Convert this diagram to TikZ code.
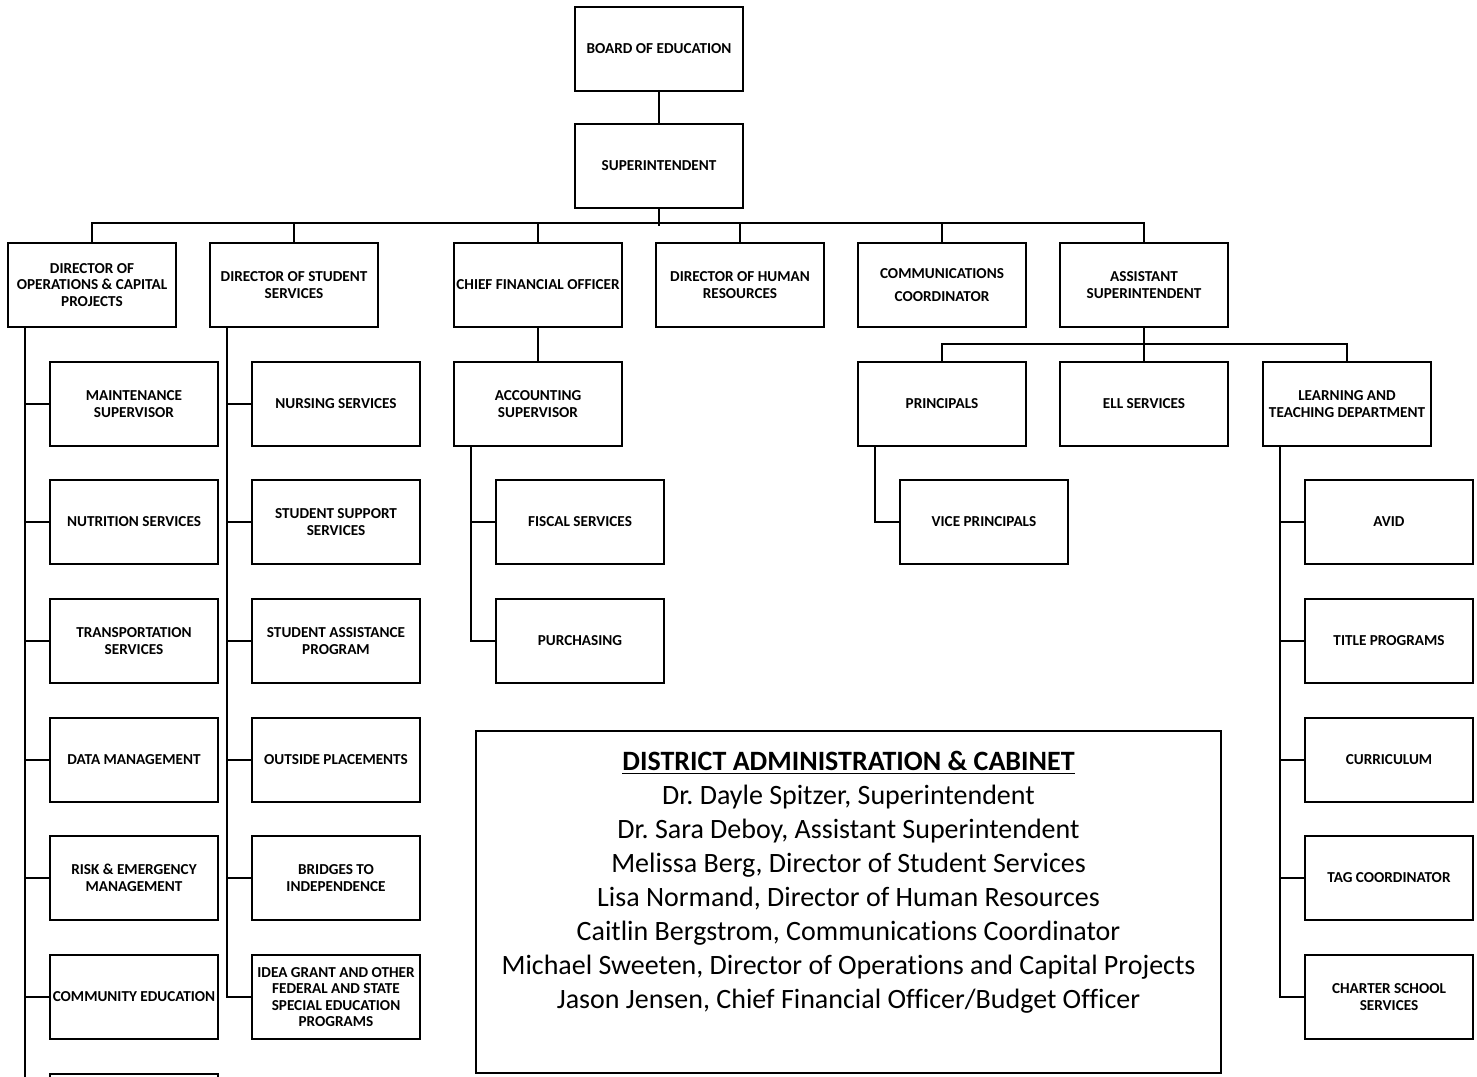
\documentclass[tikz,border=0pt]{standalone}
\usepackage{fontspec}
\setmainfont{Carlito}[Ligatures=NoCommon]
\usetikzlibrary{calc}
\frenchspacing
\begin{document}
\begin{tikzpicture}[x=0.5pt,y=-0.5pt,
  box/.style={draw,line width=1.3pt,minimum width=84pt,minimum height=42pt,inner sep=1pt,align=center,
    font=\bfseries\fontsize{7.6}{8.3}\selectfont},
  conn/.style={line width=1.2pt}]
\path[use as bounding box,clip] (0,0) rectangle (1477,1076);
% top
\node[box] (board) at (659,49) {BOARD OF EDUCATION};
\node[box] (supt) at (659,166) {SUPERINTENDENT};
% level 1
\node[box] (ops) at (92,285) {DIRECTOR OF\\OPERATIONS \& CAPITAL\\PROJECTS};
\node[box] (sss) at (294,285) {DIRECTOR OF STUDENT\\SERVICES};
\node[box] (cfo) at (538,285) {CHIEF FINANCIAL OFFICER};
\node[box] (hr) at (740,285) {DIRECTOR OF HUMAN\\RESOURCES};
\node[box] (comm) at (942,285) {COMMUNICATIONS\\[3pt]COORDINATOR};
\node[box] (asst) at (1144,285) {ASSISTANT\\SUPERINTENDENT};
% ops children
\node[box] (ops1) at (134,404) {MAINTENANCE\\SUPERVISOR};
\node[box] (ops2) at (134,522) {NUTRITION SERVICES};
\node[box] (ops3) at (134,641) {TRANSPORTATION\\SERVICES};
\node[box] (ops4) at (134,760) {DATA MANAGEMENT};
\node[box] (ops5) at (134,878) {RISK \& EMERGENCY\\MANAGEMENT};
\node[box] (ops6) at (134,997) {COMMUNITY EDUCATION};
\node[box] (ops7) at (134,1116) {};
% student services children
\node[box] (sss1) at (336,404) {NURSING SERVICES};
\node[box] (sss2) at (336,522) {STUDENT SUPPORT\\SERVICES};
\node[box] (sss3) at (336,641) {STUDENT ASSISTANCE\\PROGRAM};
\node[box] (sss4) at (336,760) {OUTSIDE PLACEMENTS};
\node[box] (sss5) at (336,878) {BRIDGES TO\\INDEPENDENCE};
\node[box] (sss6) at (336,997) {IDEA GRANT AND OTHER\\FEDERAL AND STATE\\SPECIAL EDUCATION\\PROGRAMS};
% CFO
\node[box] (acct) at (538,404) {ACCOUNTING\\SUPERVISOR};
\node[box] (fisc) at (580,522) {FISCAL SERVICES};
\node[box] (purch) at (580,641) {PURCHASING};
% assistant superintendent
\node[box] (prin) at (942,404) {PRINCIPALS};
\node[box] (ell) at (1144,404) {ELL SERVICES};
\node[box] (lt) at (1347,404) {LEARNING AND\\TEACHING DEPARTMENT};
\node[box] (vp) at (984,522) {VICE PRINCIPALS};
\node[box] (lt1) at (1389,522) {AVID};
\node[box] (lt2) at (1389,641) {TITLE PROGRAMS};
\node[box] (lt3) at (1389,760) {CURRICULUM};
\node[box] (lt4) at (1389,878) {TAG COORDINATOR};
\node[box] (lt5) at (1389,997) {CHARTER SCHOOL\\SERVICES};
% cabinet
\node[draw,line width=1.3pt,minimum width=372.5pt,minimum height=171pt,inner sep=0pt] (cab) at (848.5,902) {};
\node[anchor=north,align=center,inner sep=0pt,font=\fontsize{14}{17}\selectfont] (cabtext) at ($(cab.north)+(0,21)$)
 {\textbf{\underline{DISTRICT ADMINISTRATION \& CABINET}}\\
  Dr. Dayle Spitzer, Superintendent\\
  Dr. Sara Deboy, Assistant Superintendent\\
  Melissa Berg, Director of Student Services\\
  Lisa Normand, Director of Human Resources\\
  Caitlin Bergstrom, Communications Coordinator\\
  Michael Sweeten, Director of Operations and Capital Projects\\
  Jason Jensen, Chief Financial Officer/Budget Officer};
% connectors
\draw[conn] (board) -- (supt);
\draw[conn] (supt.south) -- ++(0,17);
\draw[conn] (ops.north) -- ++(0,-19) -| (asst.north);
\foreach \n in {sss,cfo,hr,comm} \draw[conn] (\n.north) -- ++(0,-19);
% ops branch
\coordinate (opsv) at ($(ops.south west)+(18,0)$);
\draw[conn] (opsv) -- (opsv |- ops7.south);
\foreach \i in {1,...,7} \draw[conn] (ops\i.west) -- (ops\i.west -| opsv);
% student services branch
\coordinate (sssv) at ($(sss.south west)+(18,0)$);
\draw[conn] (sssv) |- (sss6.west);
\foreach \i in {1,...,5} \draw[conn] (sss\i.west) -- (sss\i.west -| sssv);
% CFO branch
\draw[conn] (cfo) -- (acct);
\coordinate (acctv) at ($(acct.south west)+(18,0)$);
\draw[conn] (acctv) |- (purch.west);
\draw[conn] (fisc.west) -- (fisc.west -| acctv);
% assistant superintendent branch
\draw[conn] (asst) -- (ell);
\draw[conn] (prin.north) -- ++(0,-17) -| (lt.north);
\coordinate (prinv) at ($(prin.south west)+(18,0)$);
\draw[conn] (prinv) |- (vp.west);
\coordinate (ltv) at ($(lt.south west)+(18,0)$);
\draw[conn] (ltv) |- (lt5.west);
\foreach \i in {1,...,4} \draw[conn] (lt\i.west) -- (lt\i.west -| ltv);
\end{tikzpicture}
\end{document}
